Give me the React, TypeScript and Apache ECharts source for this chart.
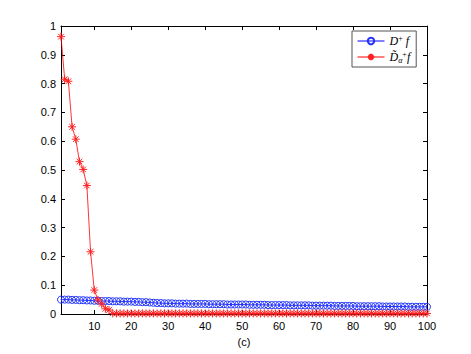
import React, { useEffect, useRef } from 'react';
import * as echarts from 'echarts';

const blueValues = [
  0.050, 0.050, 0.050, 0.049, 0.049, 0.048, 0.048, 0.047, 0.047, 0.046,
  0.046, 0.045, 0.045, 0.045, 0.044, 0.044, 0.044, 0.043, 0.043, 0.043,
  0.042, 0.042, 0.041, 0.041, 0.040, 0.039, 0.038, 0.038, 0.037, 0.037,
  0.037, 0.036, 0.036, 0.036, 0.036, 0.035, 0.035, 0.035, 0.035, 0.035,
  0.034, 0.034, 0.034, 0.034, 0.034, 0.033, 0.033, 0.033, 0.033, 0.033,
  0.033, 0.032, 0.032, 0.032, 0.032, 0.032, 0.031, 0.031, 0.031, 0.031,
  0.031, 0.031, 0.030, 0.030, 0.030, 0.030, 0.030, 0.030, 0.029, 0.029,
  0.029, 0.029, 0.029, 0.029, 0.028, 0.028, 0.028, 0.028, 0.028, 0.028,
  0.027, 0.027, 0.027, 0.027, 0.027, 0.027, 0.027, 0.026, 0.026, 0.026,
  0.026, 0.026, 0.026, 0.026, 0.025, 0.025, 0.025, 0.025, 0.025, 0.025,
];

const redValues = [
  0.963, 0.815, 0.808, 0.650, 0.607, 0.529, 0.502, 0.446, 0.216, 0.083,
  0.049, 0.035, 0.018, 0.014, 0.002, 0.002, 0.002, 0.002, 0.002, 0.002,
  0.002, 0.002, 0.002, 0.002, 0.002, 0.002, 0.002, 0.002, 0.002, 0.002,
  0.002, 0.002, 0.002, 0.002, 0.002, 0.002, 0.002, 0.002, 0.002, 0.002,
  0.002, 0.002, 0.002, 0.002, 0.002, 0.002, 0.002, 0.002, 0.002, 0.002,
  0.002, 0.002, 0.002, 0.002, 0.002, 0.002, 0.002, 0.002, 0.002, 0.002,
  0.002, 0.002, 0.002, 0.002, 0.002, 0.002, 0.002, 0.002, 0.002, 0.002,
  0.002, 0.002, 0.002, 0.002, 0.002, 0.002, 0.002, 0.002, 0.002, 0.002,
  0.002, 0.002, 0.002, 0.002, 0.002, 0.002, 0.002, 0.002, 0.002, 0.002,
  0.002, 0.002, 0.002, 0.002, 0.002, 0.002, 0.002, 0.002, 0.002, 0.002,
];

const xTicks = [10, 20, 30, 40, 50, 60, 70, 80, 90, 100];
const seriesNames = ['D+f', 'Da+f'];
const xAxisName = '(c)';

const STAR = 'path://M0,-1L0,1M-1,0L1,0M-0.7,-0.7L0.7,0.7M-0.7,0.7L0.7,-0.7';
const FONT = '"Liberation Sans", Arial, Helvetica, sans-serif';

export default function App() {
  const ref = useRef<HTMLDivElement>(null);
  useEffect(() => {
    document.body.style.margin = '0';
    if (!ref.current) return;
    const chart = echarts.init(ref.current, null, { renderer: 'svg' });
    const axisCommon = {
      type: 'value' as const,
      axisLine: { show: true, onZero: false, lineStyle: { color: '#000', width: 1 } },
      splitLine: { show: false },
    };
    chart.setOption({
      animation: false,
      backgroundColor: '#fff',
      grid: { left: 61, top: 26, width: 366, height: 288, containLabel: false },
      legend: {
        orient: 'vertical',
        left: 352,
        top: 31,
        data: seriesNames,
        backgroundColor: '#fff',
        borderColor: '#555',
        borderWidth: 1,
        borderRadius: 0,
        padding: [3, 6, 3, 5],
        itemWidth: 27,
        itemHeight: 8,
        itemGap: 3,
        lineStyle: { width: 1 },
        formatter: (name: string) =>
          name === seriesNames[0]
            ? '{m|D}{sup|+}{m| f}'
            : '{m|D\u0303}{sub|\u03b1}{sup|+}{m|f}',
        textStyle: {
          color: '#000',
          rich: {
            m: { fontFamily: '"Liberation Serif", "DejaVu Serif", serif', fontStyle: 'italic', fontSize: 12, color: '#000', lineHeight: 14 },
            sup: { fontFamily: '"Liberation Serif", serif', fontSize: 8, verticalAlign: 'top', color: '#000' },
            sub: { fontFamily: '"Liberation Serif", serif', fontStyle: 'italic', fontSize: 8, verticalAlign: 'bottom', color: '#000' },
          },
        },
      },
      xAxis: [
        {
          ...axisCommon,
          position: 'bottom',
          min: 1,
          max: 100,
          name: xAxisName,
          nameLocation: 'middle',
          nameGap: 22,
          nameTextStyle: { fontFamily: FONT, fontSize: 11, color: '#000' },
          axisTick: { show: true, inside: true, length: 4, customValues: xTicks, lineStyle: { color: '#000' } },
          axisLabel: { show: true, customValues: xTicks, margin: 6, fontFamily: FONT, fontSize: 11, color: '#000' },
        },
        {
          ...axisCommon,
          position: 'top',
          min: 1,
          max: 100,
          axisTick: { show: true, inside: true, length: 4, customValues: xTicks, lineStyle: { color: '#000' } },
          axisLabel: { show: false },
        },
      ],
      yAxis: [
        {
          ...axisCommon,
          position: 'left',
          min: 0,
          max: 1,
          interval: 0.1,
          axisTick: { show: true, inside: true, length: 4, lineStyle: { color: '#000' } },
          axisLabel: {
            show: true,
            margin: 5,
            fontFamily: FONT,
            fontSize: 11,
            color: '#000',
            formatter: (v: number) => (v === 0 ? '0' : v === 1 ? '1' : v.toFixed(1)),
          },
        },
        {
          ...axisCommon,
          position: 'right',
          min: 0,
          max: 1,
          interval: 0.1,
          axisTick: { show: true, inside: true, length: 4, lineStyle: { color: '#000' } },
          axisLabel: { show: false },
        },
      ],
      series: [
        {
          name: seriesNames[0],
          type: 'line',
          xAxisIndex: 0,
          yAxisIndex: 0,
          data: blueValues.map((v, i) => [i + 1, v]),
          symbol: 'circle',
          symbolSize: 7,
          showAllSymbol: true,
          clip: false,
          lineStyle: { color: '#0000ff', width: 0.8 },
          itemStyle: { color: 'rgba(255,255,255,0)', borderColor: '#1f33ff', borderWidth: 1 },
          z: 2,
        },
        {
          name: seriesNames[1],
          type: 'line',
          xAxisIndex: 0,
          yAxisIndex: 0,
          data: redValues.map((v, i) => [i + 1, v]),
          symbol: STAR,
          symbolSize: 8,
          showAllSymbol: true,
          clip: false,
          lineStyle: { color: '#ff0000', width: 0.8 },
          itemStyle: { color: '#ff0000', borderColor: '#ff2020', borderWidth: 1 },
          z: 3,
        },
      ],
    });
    return () => chart.dispose();
  }, []);
  return <div ref={ref} style={{ width: 471, height: 354 }} />;
}
